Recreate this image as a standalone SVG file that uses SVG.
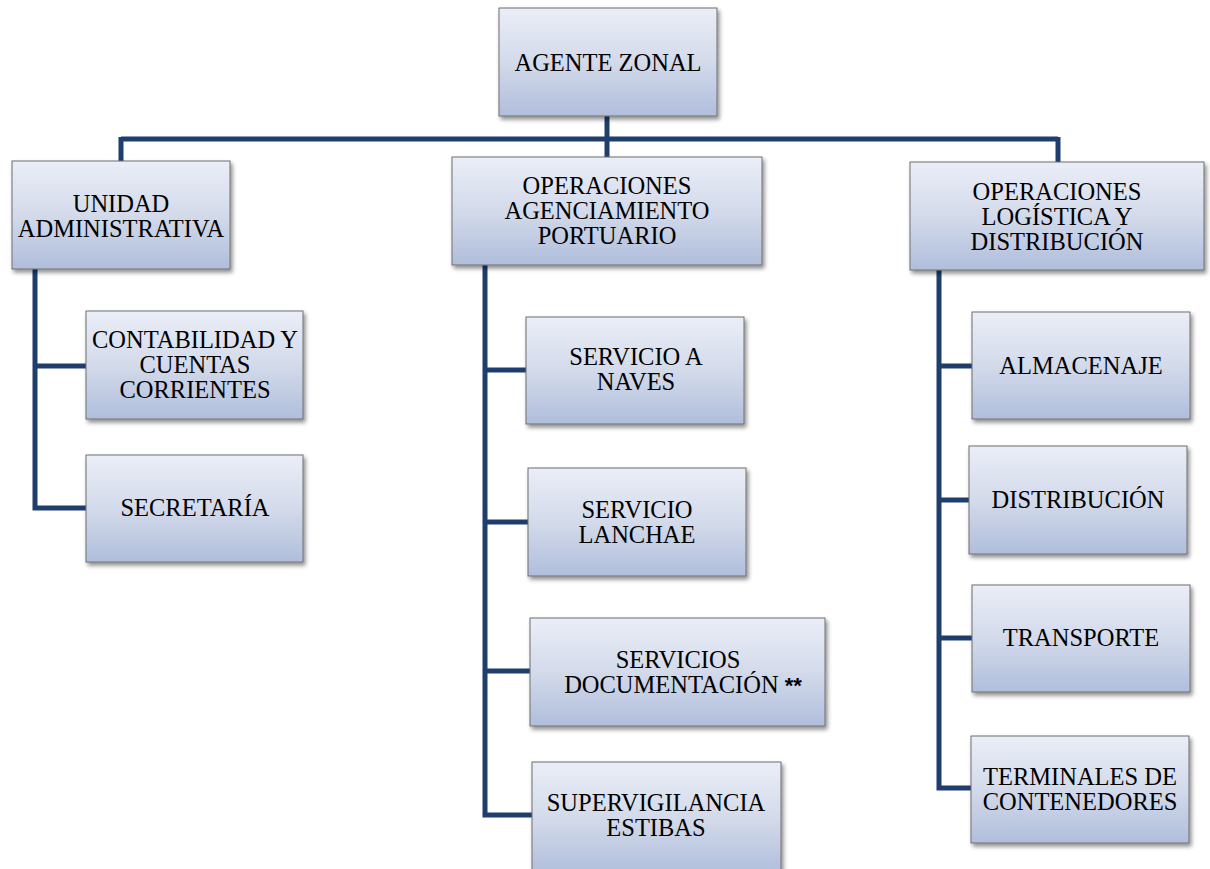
<svg xmlns="http://www.w3.org/2000/svg" width="1210" height="869" viewBox="0 0 1210 869">
<defs>
<linearGradient id="g" x1="0" y1="0" x2="0" y2="1">
<stop offset="0" stop-color="#eaeef7"/>
<stop offset="0.5" stop-color="#d3daea"/>
<stop offset="1" stop-color="#b0bedc"/>
</linearGradient>
<filter id="sh" x="-10%" y="-10%" width="125%" height="130%">
<feDropShadow dx="2" dy="3" stdDeviation="2" flood-color="#000" flood-opacity="0.45"/>
</filter>
</defs>
<style>
.box{fill:url(#g);stroke:#6e6e6e;stroke-width:1;filter:url(#sh)}
.t{font-family:"Liberation Serif","Times New Roman",serif;font-size:24.5px;fill:#000;text-anchor:middle}
.c{stroke:#1f3e6d;stroke-width:5;fill:none;stroke-linecap:butt;stroke-linejoin:miter}
</style>
<rect width="1210" height="869" fill="#fff"/>
<g id="connectors">
<path class="c" d="M121 139H1058M121 137V161M607 116V157M1058 137V162"/>
<path class="c" d="M35 269V508H86M35 366H86"/>
<path class="c" d="M485 265V815H532M485 370H526M485 522H528M485 671H530"/>
<path class="c" d="M939 270V788H971M939 366H972M939 500H969M939 638H972"/>
</g>
<g id="agente-zonal"><rect class="box" x="499" y="8" width="218" height="108"/><text class="t" x="608" y="71">AGENTE ZONAL</text></g>
<g id="unidad-administrativa"><rect class="box" x="12" y="161" width="218" height="108"/><text class="t" x="121" y="212">UNIDAD</text><text class="t" x="121" y="237">ADMINISTRATIVA</text></g>
<g id="operaciones-agenciamiento"><rect class="box" x="452" y="157" width="310" height="108"/><text class="t" x="607" y="194">OPERACIONES</text><text class="t" x="607" y="219">AGENCIAMIENTO</text><text class="t" x="607" y="244">PORTUARIO</text></g>
<g id="operaciones-logistica"><rect class="box" x="910" y="162" width="294" height="108"/><text class="t" x="1057" y="200">OPERACIONES</text><text class="t" x="1057" y="225">LOGÍSTICA Y</text><text class="t" x="1057" y="250">DISTRIBUCIÓN</text></g>
<g id="contabilidad"><rect class="box" x="86" y="311" width="217" height="108"/><text class="t" x="195" y="348">CONTABILIDAD Y</text><text class="t" x="195" y="373">CUENTAS</text><text class="t" x="195" y="398">CORRIENTES</text></g>
<g id="secretaria"><rect class="box" x="86" y="455" width="217" height="107"/><text class="t" x="195" y="516">SECRETARÍA</text></g>
<g id="servicio-naves"><rect class="box" x="526" y="317" width="218" height="107"/><text class="t" x="636" y="365">SERVICIO A</text><text class="t" x="636" y="390">NAVES</text></g>
<g id="servicio-lanchae"><rect class="box" x="528" y="468" width="218" height="108"/><text class="t" x="637" y="518">SERVICIO</text><text class="t" x="637" y="543">LANCHAE</text></g>
<g id="servicios-documentacion"><rect class="box" x="530" y="618" width="295" height="108"/><text class="t" x="678" y="668">SERVICIOS</text><text class="t" x="683" y="693">DOCUMENTACIÓN <tspan font-family="Liberation Sans, Arial, sans-serif" font-weight="bold" font-size="22">**</tspan></text></g>
<g id="supervigilancia"><rect class="box" x="532" y="762" width="249" height="112"/><text class="t" x="656" y="811">SUPERVIGILANCIA</text><text class="t" x="656" y="836">ESTIBAS</text></g>
<g id="almacenaje"><rect class="box" x="972" y="312" width="218" height="107"/><text class="t" x="1081" y="374">ALMACENAJE</text></g>
<g id="distribucion"><rect class="box" x="969" y="446" width="218" height="108"/><text class="t" x="1078" y="508">DISTRIBUCIÓN</text></g>
<g id="transporte"><rect class="box" x="972" y="585" width="218" height="107"/><text class="t" x="1081" y="646">TRANSPORTE</text></g>
<g id="terminales"><rect class="box" x="971" y="736" width="218" height="107"/><text class="t" x="1080" y="785">TERMINALES DE</text><text class="t" x="1080" y="810">CONTENEDORES</text></g>
</svg>
